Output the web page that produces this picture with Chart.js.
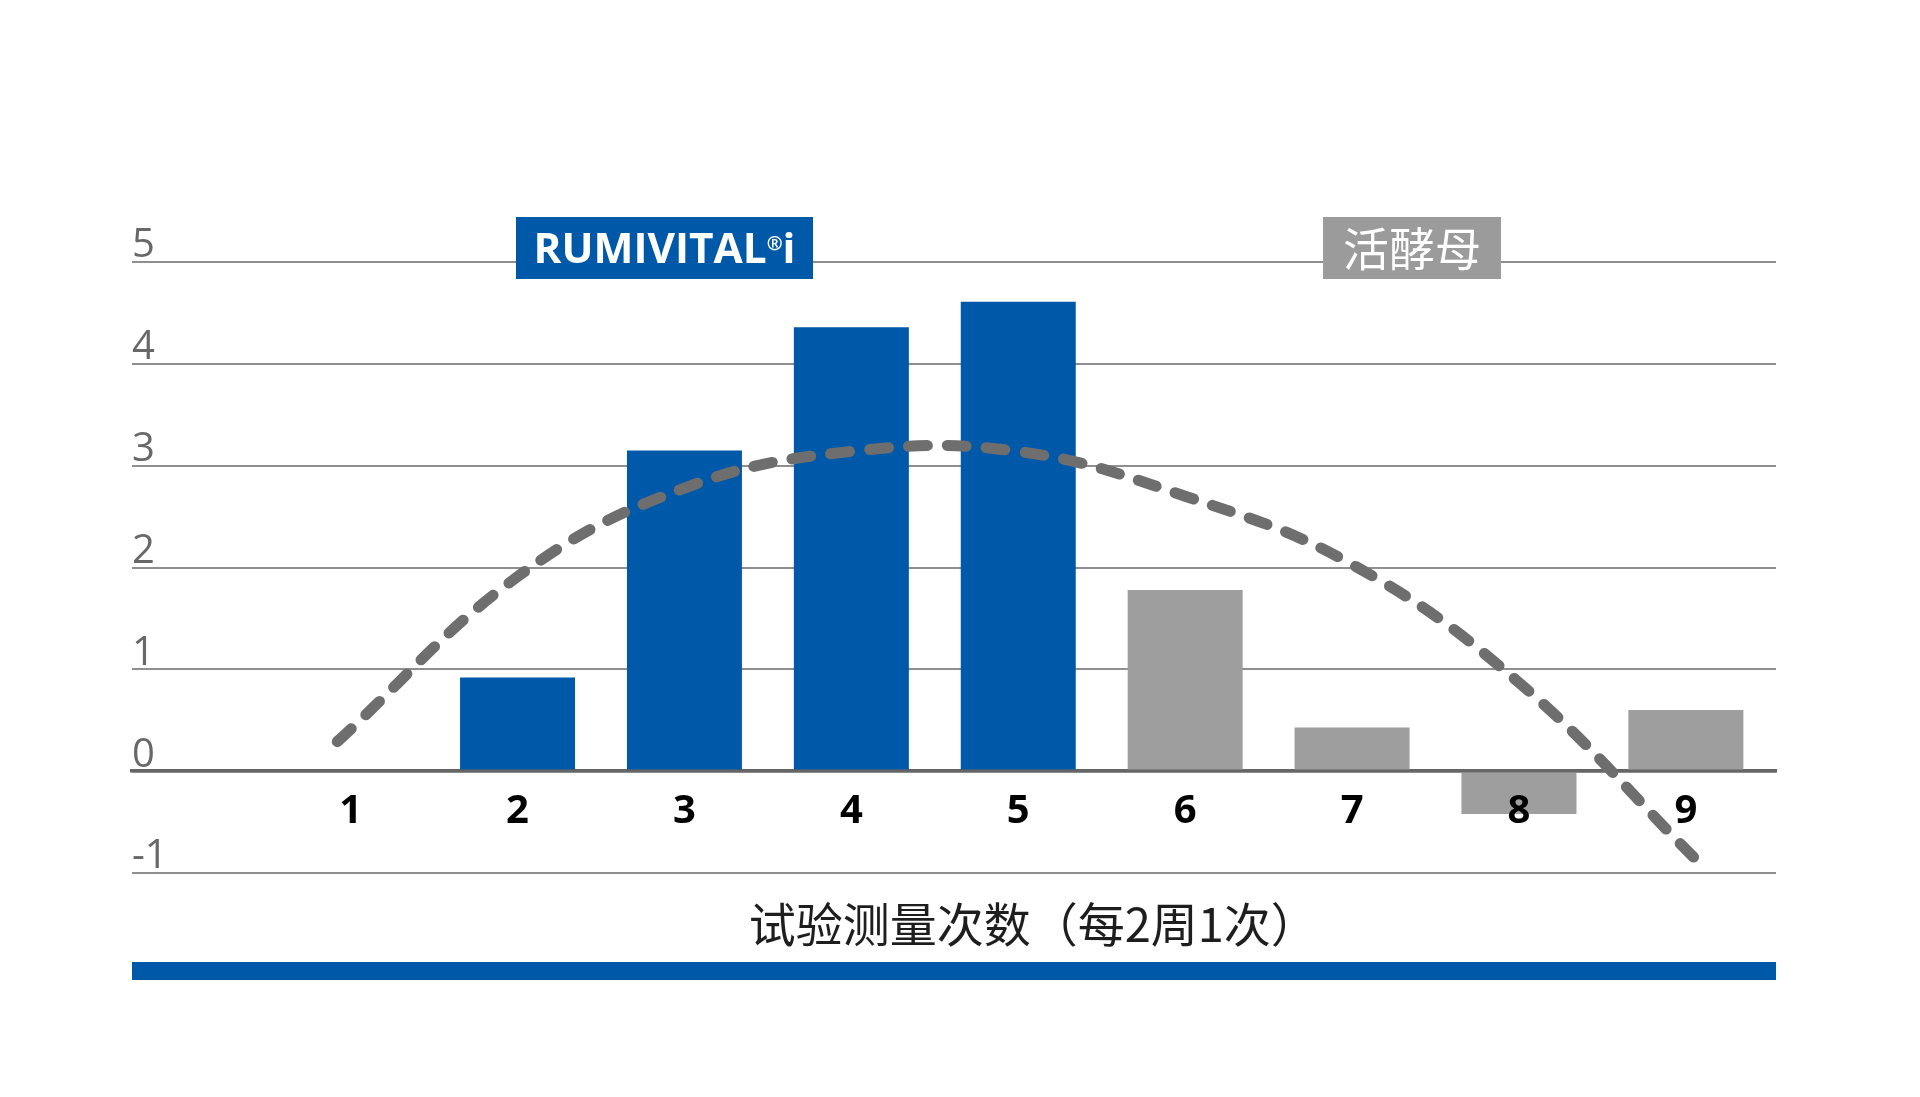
<!DOCTYPE html>
<html>
<head>
<meta charset="utf-8">
<script src="https://cdn.jsdelivr.net/npm/chart.js@4"></script>
<style>
  html, body { margin: 0; padding: 0; background: #ffffff; overflow: hidden; }
  #wrap { width: 1920px; height: 1097px; }
</style>
</head>
<body>
<div id="wrap"><canvas id="c" width="1920" height="1097"></canvas></div>
<script>
// ---- data ----
const categories = [1, 2, 3, 4, 5, 6, 7, 8, 9];
const seriesLabels = ['RUMIVITAL®i', '活酵母'];
const rumivitalValues = [0, 0.92, 3.15, 4.36, 4.61, null, null, null, null];
const yeastValues = [null, null, null, null, null, 1.78, 0.43, -0.42, 0.60];
const trendX = [0.92, 2, 3, 4, 5, 6, 7, 8, 9.05];
const trendY = [0.29, 1.91, 2.78, 3.14, 3.14, 2.70, 2.03, 0.87, -0.85];
const yTickValues = [-1, 0, 1, 2, 3, 4, 5];
const xTitle = '试验测量次数（每2周1次）';

const BLUE = '#0059a8';
const GREY_BAR = '#9e9e9e';
const GREY_BOX = '#9b9b9b';

const toPoints = (xs, ys) => xs.map((x, i) => ({ x: x, y: ys[i] }));

// ---- decoration plugin: series boxes, x title, bottom band ----
const decor = {
  id: 'decor',
  afterDraw(chart) {
    const ctx = chart.ctx;
    const ca = chart.chartArea;
    const xs = chart.scales.x;
    ctx.save();

    // box 1: RUMIVITAL®i
    ctx.fillStyle = BLUE;
    ctx.fillRect(516, 217, 297, 62);
    const parts = [
      { t: 'RUMIVITAL', f: 'bold 42px "Open Sans"', dy: 0 },
      { t: '®', f: 'bold 19px "Open Sans"', dy: -13 },
      { t: 'i', f: 'bold 42px "Open Sans"', dy: 0 }
    ];
    let total = 0;
    parts.forEach(p => { ctx.font = p.f; p.w = ctx.measureText(p.t).width; total += p.w; });
    const target = 262;
    const sx = target / total;
    ctx.save();
    ctx.translate(516 + 297 / 2 - target / 2, 263);
    ctx.scale(sx, 1);
    ctx.fillStyle = '#ffffff';
    ctx.textBaseline = 'alphabetic';
    ctx.textAlign = 'left';
    let cx = 0;
    parts.forEach(p => { ctx.font = p.f; ctx.fillText(p.t, cx, p.dy); cx += p.w; });
    ctx.restore();

    // box 2: 活酵母
    ctx.fillStyle = GREY_BOX;
    ctx.fillRect(1323, 217, 178, 62);
    ctx.fillStyle = '#ffffff';
    ctx.font = '46px "Noto Sans CJK SC"';
    ctx.textAlign = 'center';
    ctx.textBaseline = 'middle';
    ctx.fillText(seriesLabels[1], 1323 + 89, 249);

    // x axis title, ink-centred on the category span
    const midX = (xs.getPixelForValue(categories[0] - 0.5) + xs.getPixelForValue(categories[categories.length - 1] + 0.5)) / 2;
    ctx.fillStyle = '#1e1e1e';
    ctx.font = '47px "Noto Sans CJK SC"';
    ctx.textAlign = 'left';
    ctx.textBaseline = 'middle';
    const m = ctx.measureText(xTitle);
    const tx = midX - (m.actualBoundingBoxRight - m.actualBoundingBoxLeft) / 2;
    ctx.fillText(xTitle, tx, 924);

    // bottom blue band
    ctx.fillStyle = BLUE;
    ctx.fillRect(ca.left, ca.bottom + 89, ca.right - ca.left, 18);

    ctx.restore();
  }
};

new Chart(document.getElementById('c'), {
  data: {
    datasets: [
      {
        type: 'line',
        label: 'trend',
        data: toPoints(trendX, trendY),
        borderColor: '#6e6e6e',
        borderWidth: 11,
        borderDash: [19, 20],
        borderCapStyle: 'round',
        pointRadius: 0,
        tension: 0.4,
        fill: false,
        order: 0
      },
      {
        type: 'bar',
        label: seriesLabels[0],
        data: toPoints(categories, rumivitalValues),
        backgroundColor: BLUE,
        borderWidth: 0,
        grouped: false,
        barPercentage: 0.689,
        categoryPercentage: 1.0,
        order: 1
      },
      {
        type: 'bar',
        label: seriesLabels[1],
        data: toPoints(categories, yeastValues),
        backgroundColor: GREY_BAR,
        borderWidth: 0,
        grouped: false,
        barPercentage: 0.689,
        categoryPercentage: 1.0,
        order: 1
      }
    ]
  },
  options: {
    responsive: false,
    animation: false,
    events: [],
    layout: { padding: { left: 132, right: 144, top: 262, bottom: 224 } },
    plugins: {
      legend: { display: false },
      tooltip: { enabled: false },
      title: { display: false }
    },
    scales: {
      x: {
        type: 'linear',
        position: { y: 0 },
        offset: false,
        min: -0.31,
        max: 9.54,
        afterBuildTicks: (scale) => { scale.ticks = categories.map(v => ({ value: v })); },
        grid: { display: false, drawTicks: false, offset: false },
        border: { display: true, color: '#666666', width: 3.5 },
        ticks: {
          z: 1,
          color: '#000000',
          font: { family: '"Open Sans"', size: 40, weight: 'bold' },
          padding: 16,
          maxRotation: 0,
          autoSkip: false,
          callback: (v) => String(v)
        }
      },
      y: {
        type: 'linear',
        position: 'left',
        min: -1,
        max: 5,
        afterBuildTicks: (scale) => { scale.ticks = yTickValues.map(v => ({ value: v })); },
        grid: {
          drawTicks: false,
          color: (c) => (c.tick && c.tick.value === 0) ? '#666666' : '#8f8f8f',
          lineWidth: (c) => (c.tick && c.tick.value === 0) ? 3.5 : 2
        },
        border: { display: false },
        ticks: {
          mirror: true,
          padding: 0,
          labelOffset: -16,
          color: '#686868',
          font: { family: '"Open Sans"', size: 40, weight: 500 },
          callback: (v) => String(v)
        }
      }
    }
  },
  plugins: [decor]
});
</script>
</body>
</html>
